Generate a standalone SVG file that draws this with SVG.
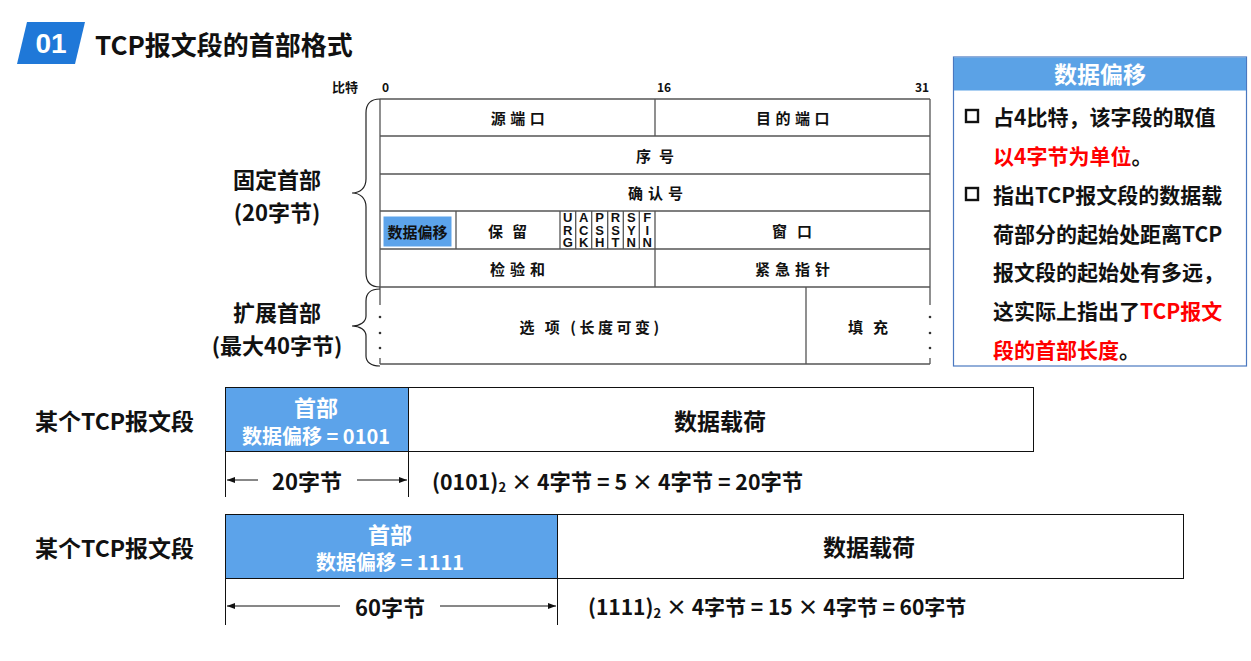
<svg xmlns="http://www.w3.org/2000/svg" width="1251" height="661" viewBox="0 0 1251 661">
<defs>
<style>
.t{font-family:"Noto Sans CJK SC","Liberation Sans",sans-serif;font-weight:bold;fill:#111;}
.c{font-size:15px;text-anchor:middle;dominant-baseline:central;}
.bit{font-size:12px;dominant-baseline:central;}
.flag{font-family:"Liberation Sans",sans-serif;font-weight:bold;font-size:13px;text-anchor:middle;fill:#111;}
.ln{stroke:#555;stroke-width:1.3;fill:none;}
.br{stroke:#222;stroke-width:1.2;fill:none;}
.seg{stroke:#111;stroke-width:1;}
.big{font-size:23px;text-anchor:middle;dominant-baseline:central;}
.lab{font-size:22px;text-anchor:middle;dominant-baseline:central;}
.rb{font-size:21px;dominant-baseline:central;}
.red{fill:#ff0000;}
.w{fill:#fff;}
.ar{stroke:#111;stroke-width:1;marker-end:url(#ah);}
</style>
<marker id="ah" markerWidth="8" markerHeight="6" refX="8" refY="3" orient="auto" markerUnits="userSpaceOnUse">
<path d="M0,0 L8,3 L0,6 z" fill="#111"/>
</marker>
</defs>
<rect width="1251" height="661" fill="#fff"/>

<g id="title">
<polygon points="27,22 85,22 75,64 17,64" fill="#1f78d8"/>
<text x="51" y="43" font-family="Liberation Sans,sans-serif" font-weight="bold" font-size="28" fill="#fff" text-anchor="middle" dominant-baseline="central">01</text>
<text class="t" x="95" y="43" font-size="26" dominant-baseline="central">TCP报文段的首部格式</text>
</g>

<g id="bits">
<text class="t" x="345" y="86" font-size="13" text-anchor="middle" dominant-baseline="central">比特</text>
<text class="t bit" x="382" y="86">0</text>
<text class="t bit" x="657" y="86">16</text>
<text class="t bit" x="915" y="86">31</text>
</g>

<g id="table-lines">
<path class="ln" d="M380,99 H930 M380,136 H930 M380,174 H930 M380,211 H930 M380,249 H930 M380,287 H930 M380,364 H930"/>
<path class="ln" d="M380,99 V287 M930,99 V287 M655,99 V136 M655,211 V287 M456,211 V249 M560,211 V249 M575.7,211 V249 M591.7,211 V249 M607.7,211 V249 M623.3,211 V249 M639.3,211 V249 M806,287 V364"/>
<path class="ln" d="M380,287 V305 M380,358 V364 M930,287 V305 M930,358 V364"/>
<g fill="#333">
<circle cx="380" cy="317" r="1.3"/><circle cx="380" cy="333" r="1.3"/><circle cx="380" cy="348" r="1.3"/>
<circle cx="930" cy="317" r="1.3"/><circle cx="930" cy="333" r="1.3"/><circle cx="930" cy="348" r="1.3"/>
</g>
</g>

<g id="src-port"><text class="t c" x="520" y="117" letter-spacing="4.5">源端口</text></g>
<g id="dst-port"><text class="t c" x="795" y="117" letter-spacing="4.5">目的端口</text></g>
<g id="seq"><text class="t c" x="659" y="155" letter-spacing="8">序号</text></g>
<g id="ack"><text class="t c" x="658" y="192" letter-spacing="5">确认号</text></g>
<g id="data-offset">
<rect x="383.5" y="216.5" width="68" height="30" fill="#5ca3ea"/>
<text class="t c" x="417.5" y="231">数据偏移</text>
</g>
<g id="reserved"><text class="t c" x="512" y="230" letter-spacing="9">保留</text></g>
<g id="flags">
<text class="flag" x="567.8" y="222">U</text><text class="flag" x="567.8" y="234.5">R</text><text class="flag" x="567.8" y="247">G</text>
<text class="flag" x="583.7" y="222">A</text><text class="flag" x="583.7" y="234.5">C</text><text class="flag" x="583.7" y="247">K</text>
<text class="flag" x="599.7" y="222">P</text><text class="flag" x="599.7" y="234.5">S</text><text class="flag" x="599.7" y="247">H</text>
<text class="flag" x="615.5" y="222">R</text><text class="flag" x="615.5" y="234.5">S</text><text class="flag" x="615.5" y="247">T</text>
<text class="flag" x="631.3" y="222">S</text><text class="flag" x="631.3" y="234.5">Y</text><text class="flag" x="631.3" y="247">N</text>
<text class="flag" x="647.2" y="222">F</text><text class="flag" x="647.2" y="234.5">I</text><text class="flag" x="647.2" y="247">N</text>
</g>
<g id="window"><text class="t c" x="797" y="230" letter-spacing="10">窗口</text></g>
<g id="checksum"><text class="t c" x="520" y="268" letter-spacing="5">检验和</text></g>
<g id="urgent"><text class="t c" x="795" y="268" letter-spacing="5">紧急指针</text></g>
<g id="options"><text class="t c" x="591" y="326" letter-spacing="3.5">选 项 (长度可变)</text></g>
<g id="padding"><text class="t c" x="873" y="326" letter-spacing="10">填充</text></g>

<g id="fixed-header">
<path class="br" d="M380,99 C371,99 366,104 366,113 L366,179 C366,188 360,193 352,193 C360,193 366,198 366,207 L366,273 C366,282 371,287 380,287"/>
<text class="t lab" x="277" y="178">固定首部</text>
<text class="t lab" x="277" y="211">(20字节)</text>
</g>
<g id="ext-header">
<path class="br" d="M380,289 C371,289 366,293 366,301 L366,316 C366,322 360,326 352,326 C360,326 366,330 366,336 L366,356 C366,362 371,366 380,366"/>
<text class="t lab" x="277" y="311">扩展首部</text>
<text class="t lab" x="277" y="344">(最大40字节)</text>
</g>

<g id="info-box">
<rect x="953.5" y="57" width="293" height="309" fill="#fff" stroke="#4a78c0" stroke-width="1.2"/>
<rect x="954" y="57.5" width="292" height="33" fill="#5ba2e6"/>
<text class="t big w" x="1100" y="73">数据偏移</text>
<rect x="966" y="110" width="12" height="12" fill="none" stroke="#111" stroke-width="2.4"/>
<rect x="966" y="188" width="12" height="12" fill="none" stroke="#111" stroke-width="2.4"/>
<text class="t rb" x="993" y="116">占4比特，该字段的取值</text>
<text class="t rb" x="993" y="155"><tspan class="red">以4字节为单位</tspan>。</text>
<text class="t rb" x="993" y="194">指出TCP报文段的数据载</text>
<text class="t rb" x="993" y="233">荷部分的起始处距离TCP</text>
<text class="t rb" x="993" y="271">报文段的起始处有多远，</text>
<text class="t rb" x="993" y="310">这实际上指出了<tspan class="red">TCP报文</tspan></text>
<text class="t rb" x="993" y="349"><tspan class="red">段的首部长度</tspan>。</text>
</g>

<g id="segment1">
<text class="t" x="35" y="420" font-size="23" dominant-baseline="central">某个TCP报文段</text>
<rect class="seg" x="225.5" y="387.5" width="183" height="64" fill="#5ca3ea"/>
<rect class="seg" x="408.5" y="387.5" width="625" height="64" fill="#fff"/>
<text class="t w" x="316" y="406" font-size="22" text-anchor="middle" dominant-baseline="central">首部</text>
<text class="t w" x="316" y="435" font-size="20" text-anchor="middle" dominant-baseline="central">数据偏移 = 0101</text>
<text class="t big" x="720" y="420">数据载荷</text>
<path class="seg" d="M225.5,451 V497 M408.5,451 V497"/>
<text class="t" x="307" y="480" font-size="22" text-anchor="middle" dominant-baseline="central">20字节</text>
<text class="t" x="432" y="480" font-size="21.3" dominant-baseline="central">(0101)<tspan font-size="13" dy="6">2</tspan><tspan dy="-6"> × 4字节 = 5 × 4字节 = 20字节</tspan></text>
</g>

<g id="segment2">
<text class="t" x="35" y="547" font-size="23" dominant-baseline="central">某个TCP报文段</text>
<rect class="seg" x="225.5" y="514.5" width="332" height="64" fill="#5ca3ea"/>
<rect class="seg" x="557.5" y="514.5" width="626" height="64" fill="#fff"/>
<text class="t w" x="390" y="533" font-size="22" text-anchor="middle" dominant-baseline="central">首部</text>
<text class="t w" x="390" y="561" font-size="20" text-anchor="middle" dominant-baseline="central">数据偏移 = 1111</text>
<text class="t big" x="869" y="546">数据载荷</text>
<path class="seg" d="M225.5,578 V625 M557.5,578 V625"/>
<text class="t" x="390" y="606" font-size="22" text-anchor="middle" dominant-baseline="central">60字节</text>
<text class="t" x="588" y="606" font-size="21" dominant-baseline="central">(1111)<tspan font-size="13" dy="6">2</tspan><tspan dy="-6"> × 4字节 = 15 × 4字节 = 60字节</tspan></text>
</g>

<g id="connectors">
<line class="ar" x1="258" y1="480" x2="227" y2="480"/>
<line class="ar" x1="357" y1="480" x2="407" y2="480"/>
<line class="ar" x1="340" y1="606" x2="227" y2="606"/>
<line class="ar" x1="440" y1="606" x2="556" y2="606"/>
</g>
</svg>
